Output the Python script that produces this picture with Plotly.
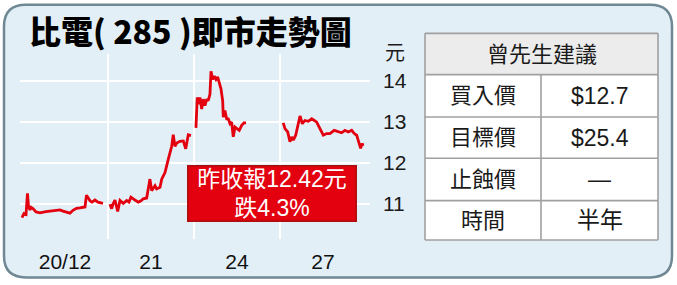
import plotly.graph_objects as go

# ---------------- data ----------------
day_labels = ["20/12", "21", "24", "27"]
day_centers = [0.5, 1.5, 2.5, 3.5]
day_bounds = [1, 2, 3]

# position within the chart (day index + fraction of the trading day) and price (HK$)
d1_x = [0.000, 0.023, 0.047, 0.064, 0.076, 0.093, 0.105, 0.128, 0.163, 0.209, 0.279, 0.337, 0.395, 0.442, 0.477,
        0.523, 0.558, 0.593, 0.634, 0.674, 0.709, 0.733, 0.750, 0.767, 0.791, 0.814, 0.849, 0.884, 0.913, 0.942]
d1_y = [10.67, 10.77, 10.75, 11.26, 10.95, 10.86, 10.92, 10.89, 10.81, 10.79, 10.82, 10.83, 10.85, 10.86, 10.83,
        10.81, 10.78, 10.85, 10.90, 10.91, 10.92, 10.93, 11.22, 11.15, 11.08, 11.05, 11.10, 11.05, 11.04, 11.02]

d2_x = [1.023, 1.043, 1.058, 1.081, 1.113, 1.140, 1.178, 1.218, 1.244, 1.267, 1.314, 1.352, 1.384, 1.410, 1.450,
        1.488, 1.508, 1.547, 1.566, 1.605, 1.625, 1.663, 1.701, 1.721, 1.741, 1.759, 1.779, 1.799, 1.837, 1.876,
        1.904, 1.934, 1.965]
d2_y = [11.00, 10.89, 11.00, 11.10, 10.82, 11.09, 11.02, 11.09, 11.05, 11.17, 11.10, 11.05, 11.08, 11.13, 11.15,
        11.61, 11.33, 11.45, 11.37, 11.41, 11.61, 11.77, 12.09, 12.25, 12.41, 12.69, 12.41, 12.49, 12.53, 12.54,
        12.35, 12.69, 12.67]

d3_x = [2.023, 2.038, 2.058, 2.070, 2.090, 2.108, 2.128, 2.148, 2.166, 2.186, 2.198, 2.217, 2.236, 2.256, 2.275,
        2.294, 2.314, 2.334, 2.341, 2.360, 2.380, 2.399, 2.419, 2.438, 2.457, 2.477, 2.497, 2.527, 2.555, 2.581,
        2.605]
d3_y = [12.86, 13.60, 13.44, 13.60, 13.32, 13.56, 13.40, 13.56, 13.52, 13.68, 14.24, 14.04, 14.12, 14.04, 14.10,
        13.97, 13.81, 13.52, 13.12, 13.28, 13.08, 13.08, 12.96, 13.00, 12.64, 12.88, 12.84, 12.80, 12.92, 12.98,
        12.98]

d4_x = [3.038, 3.058, 3.090, 3.116, 3.136, 3.155, 3.183, 3.206, 3.233, 3.260, 3.291, 3.329, 3.369, 3.399, 3.427,
        3.465, 3.504, 3.543, 3.581, 3.631, 3.678, 3.717, 3.756, 3.794, 3.834, 3.864, 3.892, 3.919, 3.938, 3.957,
        3.965]
d4_y = [12.98, 12.84, 12.76, 12.52, 12.64, 12.56, 12.68, 12.88, 13.15, 12.96, 13.04, 13.02, 13.08, 13.04, 13.00,
        12.84, 12.68, 12.72, 12.72, 12.80, 12.76, 12.74, 12.80, 12.76, 12.80, 12.72, 12.68, 12.52, 12.36, 12.48,
        12.42]

y_ticks = [11, 12, 13, 14]
y_unit = "元"
title_text = "比電( 285 )即市走勢圖"
note_text = "昨收報12.42元<br>跌4.3%"

table_header = "曾先生建議"
table_labels = ["買入價", "目標價", "止蝕價", "時間"]
table_values = ["$12.7", "$25.4", "—", "半年"]

# ---------------- figure ----------------
W, H = 677, 285
L, T, PW, PH = 20, 54, 350, 188
FONT = "Liberation Sans, Arial, Noto Sans CJK TC, sans-serif"
RED = "#e3000f"


def px(x):
    return (x - L) / PW


def py(y):
    return (T + PH - y) / PH


xs, ys = [], []
for dx, dy in [(d1_x, d1_y), (d2_x, d2_y), (d3_x, d3_y), (d4_x, d4_y)]:
    xs += dx + [None]
    ys += dy + [None]

fig = go.Figure()
fig.add_trace(go.Scatter(x=xs, y=ys, mode="lines", connectgaps=False,
                         line=dict(color=RED, width=2.8), hoverinfo="skip", showlegend=False))

shapes = []
# rounded outer panel
x0, y0, x1, y1, r = 4, 4, 672, 281, 22
path = (f"M {px(x0 + r)},{py(y0)} L {px(x1 - r)},{py(y0)} Q {px(x1)},{py(y0)} {px(x1)},{py(y0 + r)} "
        f"L {px(x1)},{py(y1 - r)} Q {px(x1)},{py(y1)} {px(x1 - r)},{py(y1)} "
        f"L {px(x0 + r)},{py(y1)} Q {px(x0)},{py(y1)} {px(x0)},{py(y1 - r)} "
        f"L {px(x0)},{py(y0 + r)} Q {px(x0)},{py(y0)} {px(x0 + r)},{py(y0)} Z")
shapes.append(dict(type="path", xref="paper", yref="paper", path=path, layer="below",
                   fillcolor="#e3eff6", line=dict(color="#6f8894", width=2.5)))

# table
tx0, tx1, tmid = 425, 658, 541
row_edges = [33, 75, 118, 160, 203, 243]
shapes.append(dict(type="rect", xref="paper", yref="paper", x0=px(tx0), x1=px(tx1),
                   y0=py(row_edges[1]), y1=py(row_edges[0]), fillcolor="#ececec", line=dict(width=0)))
shapes.append(dict(type="rect", xref="paper", yref="paper", x0=px(tx0), x1=px(tx1),
                   y0=py(row_edges[-1]), y1=py(row_edges[1]), fillcolor="#ffffff", line=dict(width=0)))
for ye in row_edges:
    shapes.append(dict(type="line", xref="paper", yref="paper", x0=px(tx0), x1=px(tx1),
                       y0=py(ye), y1=py(ye), line=dict(color="#a0a0a0", width=1.6)))
for xe in [tx0, tx1]:
    shapes.append(dict(type="line", xref="paper", yref="paper", x0=px(xe), x1=px(xe),
                       y0=py(row_edges[0]), y1=py(row_edges[-1]), line=dict(color="#a0a0a0", width=1.6)))
shapes.append(dict(type="line", xref="paper", yref="paper", x0=px(tmid), x1=px(tmid),
                   y0=py(row_edges[1]), y1=py(row_edges[-1]), line=dict(color="#a0a0a0", width=1.6)))

annotations = []
annotations.append(dict(xref="paper", yref="paper", x=px((tx0 + tx1) / 2), y=py((row_edges[0] + row_edges[1]) / 2),
                        text=table_header, showarrow=False, xanchor="center", yanchor="middle",
                        font=dict(family=FONT, size=22, color="#1a1a1a")))
for i, (lab, val) in enumerate(zip(table_labels, table_values)):
    yc = py((row_edges[i + 1] + row_edges[i + 2]) / 2)
    annotations.append(dict(xref="paper", yref="paper", x=px((tx0 + tmid) / 2), y=yc, text=lab,
                            showarrow=False, xanchor="center", yanchor="middle",
                            font=dict(family=FONT, size=22, color="#1a1a1a")))
    annotations.append(dict(xref="paper", yref="paper", x=px((tmid + tx1) / 2), y=yc, text=val,
                            showarrow=False, xanchor="center", yanchor="middle",
                            font=dict(family=FONT, size=23, color="#1a1a1a")))

# title
annotations.append(dict(xref="paper", yref="paper", x=px(27), y=py(30), text=title_text, showarrow=False,
                        xanchor="left", yanchor="middle",
                        font=dict(family="Noto Sans CJK TC, sans-serif", size=32, color="#000000", weight=900)))
# unit label
annotations.append(dict(xref="paper", yref="paper", x=px(395), y=py(53), text=y_unit, showarrow=False,
                        xanchor="center", yanchor="middle",
                        font=dict(family=FONT, size=20, color="#1a1a1a")))
# red note box
annotations.append(dict(xref="paper", yref="paper", x=px(272), y=py(195.5), text=note_text, showarrow=False,
                        xanchor="center", yanchor="middle", align="center",
                        width=165, height=52, bgcolor=RED, bordercolor="#a8110f", borderwidth=1.5, borderpad=1,
                        font=dict(family=FONT, size=23, color="#ffffff")))

fig.update_layout(
    width=W, height=H,
    margin=dict(l=L, r=W - L - PW, t=T, b=H - T - PH, pad=0),
    paper_bgcolor="#ffffff",
    plot_bgcolor="#e5eaed",
    shapes=shapes,
    annotations=annotations,
    xaxis=dict(range=[-0.023, 4.047], tickmode="array", tickvals=day_centers, ticktext=day_labels,
               showgrid=False, zeroline=False, showline=False, ticks="", ticklabelstandoff=8,
               tickfont=dict(family=FONT, size=21, color="#111111"),
               minor=dict(tickmode="array", tickvals=day_bounds, showgrid=True, gridcolor="#ffffff",
                          gridwidth=2, ticks="")),
    yaxis=dict(range=[10.15, 14.66], side="right", tickmode="array", tickvals=y_ticks,
               showgrid=True, gridcolor="#ffffff", gridwidth=2, zeroline=False, showline=False, ticks="",
               ticklabelstandoff=12, tickfont=dict(family=FONT, size=21, color="#1a1a1a")),
)

fig.write_html("out.html")
